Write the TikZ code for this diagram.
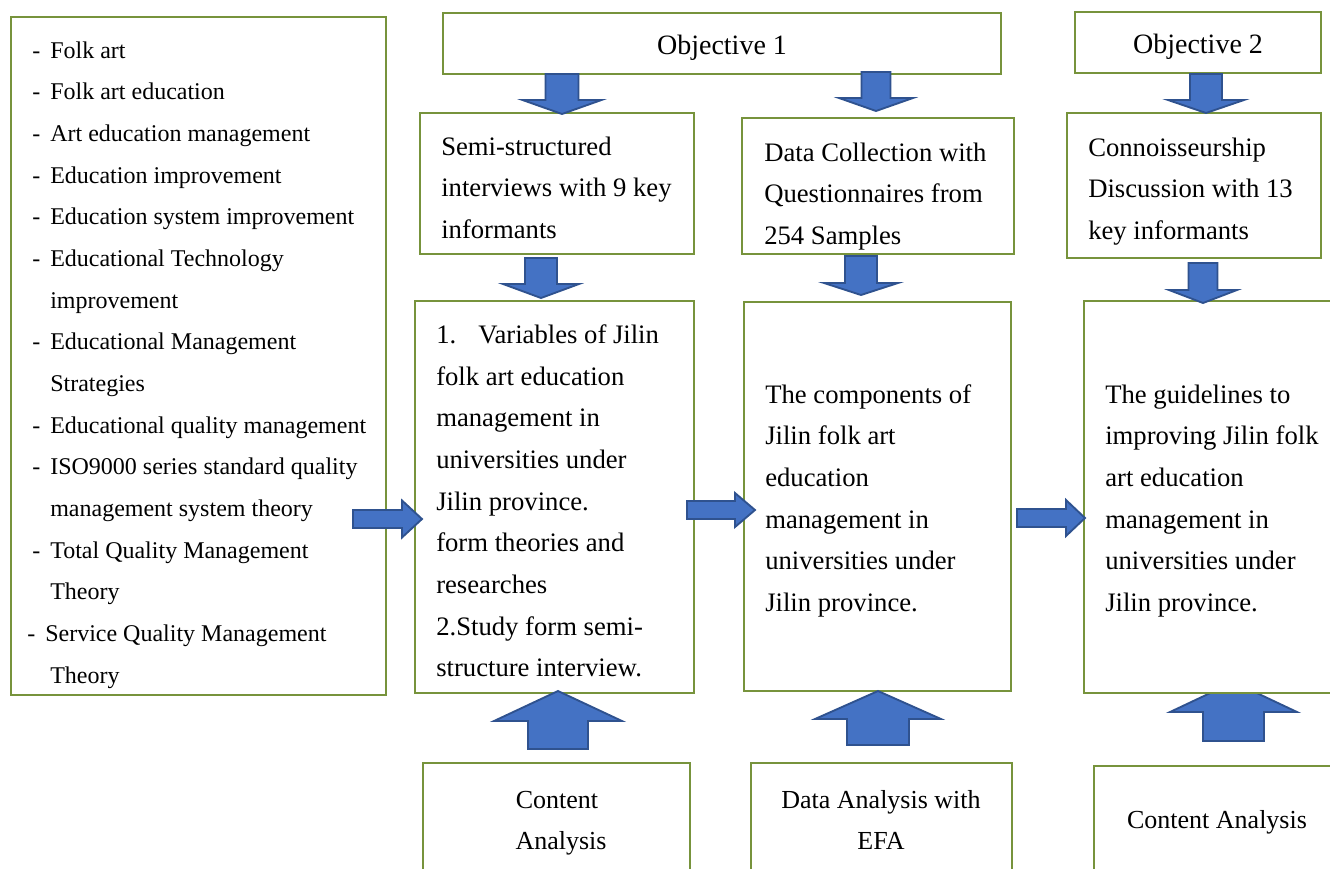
\documentclass[tikz,border=0pt]{standalone}
\usepackage{fontspec}
\setmainfont{Liberation Serif}
\definecolor{boxgreen}{HTML}{77933C}
\definecolor{arrfill}{HTML}{4472C4}
\definecolor{arrline}{HTML}{2F528F}
\tikzset{
  bx/.style={draw=boxgreen, line width=1.5pt, fill=white},
  barrow/.style={draw=arrline, fill=arrfill, line width=1.4pt, line join=miter},
  txt/.style={anchor=base west, inner sep=0pt, font=\fontsize{18}{20}\selectfont},
  btxt/.style={anchor=base west, inner sep=0pt, font=\fontsize{20}{22}\selectfont},
  ctxt/.style={anchor=base, inner sep=0pt, font=\fontsize{19.5}{22}\selectfont},
  otxt/.style={anchor=base, inner sep=0pt, font=\fontsize{21}{24}\selectfont},
}
% down arrow: cx, ytop, ybase, ytip, shaft half, head half
\newcommand\dnarr[6]{\draw[barrow] (#1-#5,#2) -- (#1+#5,#2) -- (#1+#5,#3) -- (#1+#6,#3) -- (#1,#4) -- (#1-#6,#3) -- (#1-#5,#3) -- cycle;}
% up arrow: cx, ybottom, ybase, ytip, shaft half, head half
\newcommand\uparr[6]{\draw[barrow] (#1-#5,#2) -- (#1+#5,#2) -- (#1+#5,#3) -- (#1+#6,#3) -- (#1,#4) -- (#1-#6,#3) -- (#1-#5,#3) -- cycle;}
% right arrow: cy, xleft, xbase, xtip, shaft half, head half
\newcommand\rtarr[6]{\draw[barrow] (#2,#1-#5) -- (#3,#1-#5) -- (#3,#1-#6) -- (#4,#1) -- (#3,#1+#6) -- (#3,#1+#5) -- (#2,#1+#5) -- cycle;}
\begin{document}
\begin{tikzpicture}[x=0.75pt,y=-0.75pt]
\useasboundingbox (0,0) rectangle (1330,868);
\clip (0,0) rectangle (1330,868);
% up arrow hidden partly behind the right box
\uparr{1233.5}{741}{712}{682}{30.5}{63.5}
% boxes
\draw[bx] (11,17) rectangle (386,695) coordinate (leftbox);
\draw[bx] (443,13) rectangle (1001,74);
\node[otxt] (obj1) at (722,54) {Objective 1};
\draw[bx] (1075,12) rectangle (1321,73);
\node[otxt] (obj2) at (1198,53) {Objective 2};
\draw[bx] (420,113) rectangle (694,254);
\draw[bx] (742,118) rectangle (1014,254);
\draw[bx] (1067,113) rectangle (1321,258);
\draw[bx] (415,301) rectangle (694,693);
\draw[bx] (744,302) rectangle (1011,691);
\draw[bx] (1084,301) rectangle (1345,693);
\draw[bx] (423,763) rectangle (690,880);
\draw[bx] (751,763) rectangle (1012,880);
\draw[bx] (1094,766) rectangle (1345,880);
% left list
\foreach \t/\x/\d [count=\i] in {Folk art/50/1, Folk art education/50/1, Art education management/50/1,
  Education improvement/50/1, Education system improvement/50/1, Educational Technology/50/1,
  improvement/50/0, Educational Management/50/1, Strategies/50/0, Educational quality management/50/1,
  ISO9000 series standard quality/50/1, management system theory/50/0, Total Quality Management/50/1,
  Theory/50/0, Service Quality Management/45/1, Theory/50/0}{
  \node[txt] (li\i) at (\x,{58+(\i-1)*41.67}) {\t};
  \ifnum\d=1 \node[txt] (ld\i) at (\x-18,{58+(\i-1)*41.67}) {-}; \fi
}
% top row texts
\foreach \t [count=\i] in {Semi-structured, interviews with 9 key, informants}
  \node[btxt] (ss\i) at (441,{155+(\i-1)*41.7}) {\t};
\foreach \t [count=\i] in {Data Collection with, Questionnaires from, 254 Samples}
  \node[btxt] (dc\i) at (764,{161+(\i-1)*41.5}) {\t};
\foreach \t [count=\i] in {Connoisseurship, Discussion with 13, key informants}
  \node[btxt] (cs\i) at (1088,{156+(\i-1)*41.5}) {\t};
% middle boxes
\node[btxt] (m1n) at (436,343) {1.};
\node[btxt] (m1a) at (478,343) {Variables of Jilin};
\foreach \t [count=\i] in {folk art education, management in, universities under, Jilin province., form theories and, researches, 2.Study form semi-, structure interview.}
  \node[btxt] (m1\i) at (436,{385+(\i-1)*41.7}) {\t};
\foreach \t [count=\i] in {The components of, Jilin folk art, education, management in, universities under, Jilin province.}
  \node[btxt] (m2\i) at (765,{403+(\i-1)*41.7}) {\t};
\foreach \t [count=\i] in {The guidelines to, improving Jilin folk, art education, management in, universities under, Jilin province.}
  \node[btxt] (m3\i) at (1105,{403+(\i-1)*41.7}) {\t};
% bottom texts
\node[ctxt] (b1a) at (557,808) {Content};
\node[ctxt] (b1b) at (561,849) {Analysis};
\node[ctxt] (b2a) at (881,808) {Data Analysis with};
\node[ctxt] (b2b) at (881,849) {EFA};
\node[ctxt] (b3) at (1217,828) {Content Analysis};
% down arrows
\dnarr{562}{74}{100}{114}{16.5}{39.5}
\dnarr{876}{72}{98}{111}{14.5}{37}
\dnarr{1206}{74}{100}{113}{16}{38}
\dnarr{541}{258}{284}{298}{16}{38}
\dnarr{861}{256}{283}{295}{16}{37}
\dnarr{1203}{263}{290}{303}{14.5}{34}
% right arrows
\rtarr{519}{353}{402}{422}{9}{18.5}
\rtarr{510}{687}{735}{755}{9}{17}
\rtarr{518}{1017}{1066}{1085}{9}{18}
% up arrows
\uparr{558}{749}{721}{691}{30}{64}
\uparr{878}{745}{719}{691}{31}{63}
\end{tikzpicture}
\end{document}
